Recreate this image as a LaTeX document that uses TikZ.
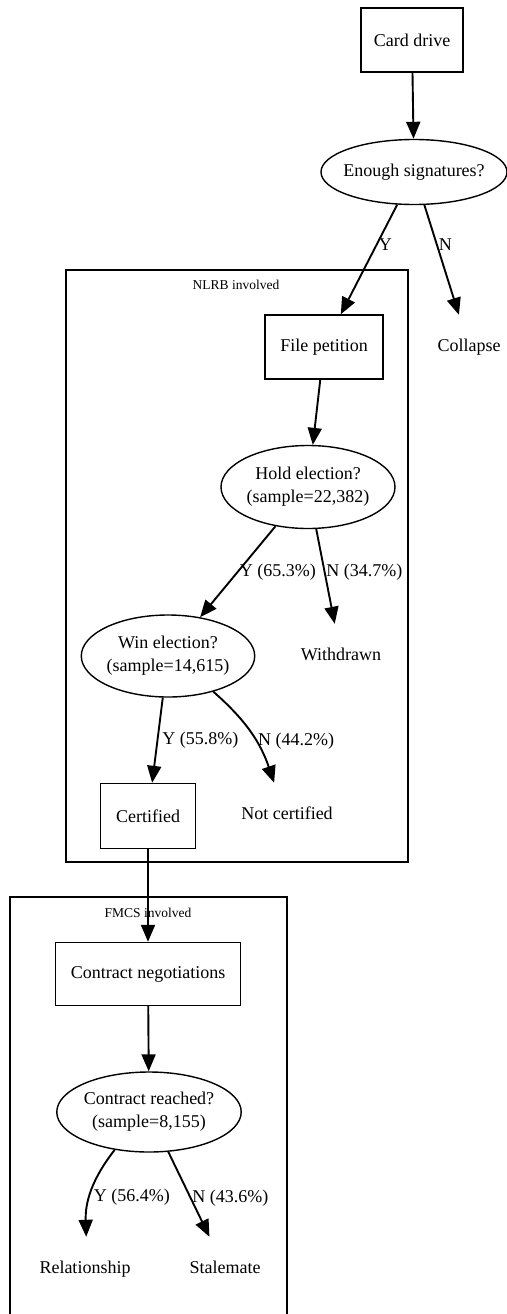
\documentclass[tikz,border=0pt]{standalone}
\usepackage{fontspec}
\setmainfont{Liberation Serif}
\usetikzlibrary{shapes.geometric, arrows.meta}

\begin{document}
\begin{tikzpicture}[x=1pt, y=-1pt,
        every node/.style={font=\fontsize{18}{23}\selectfont, inner sep=0pt, align=center},
        box/.style={draw, rectangle, line width=1.4pt, minimum height=64pt},
        oval/.style={draw, ellipse, line width=1.4pt},
        term/.style={minimum height=64pt, minimum width=60pt, text height=12.5pt, text depth=4pt},
        lbl/.style={anchor=west, inner sep=1pt},
        clus/.style={line width=1.4pt},
        small/.style={font=\fontsize{13.5}{16}\selectfont},
        arr/.style={-{Triangle[length=17pt, width=14pt]}, line width=1.9pt}]
        \useasboundingbox (0,0) rectangle (506,1314);

        % clusters
        \draw[clus] (66,270) rectangle (408,862);
        \node[small] (nlrb) at (236,285) {NLRB involved};
        \draw[clus] (10,1320) -- (10,897) -- (287,897) -- (287,1320);
        \node[small] (fmcs) at (148,913) {FMCS involved};

        \node[box, minimum width=102pt] (card) at (412,40) {Card drive};
        \node[oval, minimum width=186pt, minimum height=65pt] (sig) at (414,172) {\makebox[120pt]{Enough signatures?}};
        \node[box, minimum width=118pt] (file) at (324,347) {File petition};
        \node[term] (collapse) at (469,347) {Collapse};
        \node[oval, minimum width=174pt, minimum height=83pt] (hold) at (308,487) {Hold election?\\(sample=22,382)};
        \node[oval, minimum width=173pt, minimum height=82pt] (win) at (168,656) {Win election?\\(sample=14,615)};
        \node[term] (withdrawn) at (341,656) {Withdrawn};
        \node[box, minimum width=95pt, minimum height=65pt] (cert) at (148,816) {Certified};
        \node[term] (notcert) at (287,815) {Not certified};
        \node[box, minimum width=185pt, minimum height=63pt] (neg) at (148,974) {Contract negotiations};
        \node[oval, minimum width=182pt, minimum height=80pt] (reach) at (149,1112) {Contract reached?\\(sample=8,155)};
        \node[term] (relation) at (85,1269) {Relationship};
        \node[term] (stale) at (225,1269) {Stalemate};

        \draw[arr] (card) -- (sig);
        \draw[arr] (sig) -- node[lbl, pos=.36] (y1) {Y} (file);
        \draw[arr] (sig) -- node[lbl, pos=.36] (n1) {N} (collapse);
        \draw[arr] (file) -- (hold);
        \draw[arr] (hold) -- node[lbl, pos=.5] (y2) {Y (65.3\%)} (win);
        \draw[arr] (hold) -- node[lbl, pos=.45] (n2) {N (34.7\%)} (withdrawn);
        \draw[arr] (win) -- node[lbl, pos=.5, xshift=3pt] (y3) {Y (55.8\%)} (cert);
        \draw[arr] (win) to[bend left=15] node[lbl, pos=.6] (n3) {N (44.2\%)} (notcert);
        \draw[arr] (cert) -- (neg);
        \draw[arr] (neg) -- (reach);
        \draw[arr] (reach) to[bend right=20] node[lbl, pos=.58, xshift=2pt] (y4) {Y (56.4\%)} (relation);
        \draw[arr] (reach) -- node[lbl, pos=.54] (n4) {N (43.6\%)} (stale);
    \end{tikzpicture}
\end{document}
